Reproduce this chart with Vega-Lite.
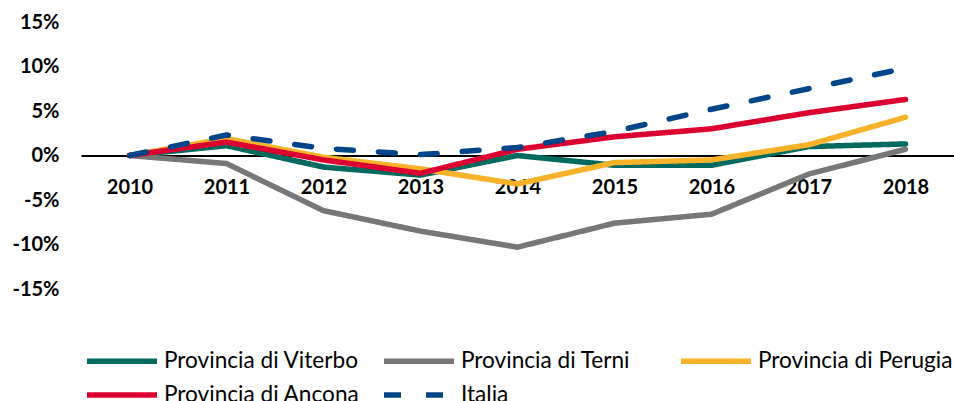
{
  "$schema": "https://vega.github.io/schema/vega-lite/v6.json",
  "autosize": {"type": "none"},
  "width": 873,
  "height": 267,
  "padding": {"left": 81, "top": 22, "right": 0, "bottom": 112},
  "background": "white",
  "config": {"view": {"stroke": null}, "font": "Lato"},
  "data": {"values": [
    {"year": "2010", "serie": "Provincia di Viterbo", "v": 0},
    {"year": "2011", "serie": "Provincia di Viterbo", "v": 1.1},
    {"year": "2012", "serie": "Provincia di Viterbo", "v": -1.3},
    {"year": "2013", "serie": "Provincia di Viterbo", "v": -2.2},
    {"year": "2014", "serie": "Provincia di Viterbo", "v": 0.0},
    {"year": "2015", "serie": "Provincia di Viterbo", "v": -1.1},
    {"year": "2016", "serie": "Provincia di Viterbo", "v": -1.1},
    {"year": "2017", "serie": "Provincia di Viterbo", "v": 1.0},
    {"year": "2018", "serie": "Provincia di Viterbo", "v": 1.3},
    {"year": "2010", "serie": "Provincia di Terni", "v": 0},
    {"year": "2011", "serie": "Provincia di Terni", "v": -0.9},
    {"year": "2012", "serie": "Provincia di Terni", "v": -6.2},
    {"year": "2013", "serie": "Provincia di Terni", "v": -8.5},
    {"year": "2014", "serie": "Provincia di Terni", "v": -10.3},
    {"year": "2015", "serie": "Provincia di Terni", "v": -7.6},
    {"year": "2016", "serie": "Provincia di Terni", "v": -6.6},
    {"year": "2017", "serie": "Provincia di Terni", "v": -2.1},
    {"year": "2018", "serie": "Provincia di Terni", "v": 0.7},
    {"year": "2010", "serie": "Provincia di Perugia", "v": 0},
    {"year": "2011", "serie": "Provincia di Perugia", "v": 1.9},
    {"year": "2012", "serie": "Provincia di Perugia", "v": -0.2},
    {"year": "2013", "serie": "Provincia di Perugia", "v": -1.5},
    {"year": "2014", "serie": "Provincia di Perugia", "v": -3.2},
    {"year": "2015", "serie": "Provincia di Perugia", "v": -0.8},
    {"year": "2016", "serie": "Provincia di Perugia", "v": -0.5},
    {"year": "2017", "serie": "Provincia di Perugia", "v": 1.2},
    {"year": "2018", "serie": "Provincia di Perugia", "v": 4.3},
    {"year": "2010", "serie": "Provincia di Ancona", "v": 0},
    {"year": "2011", "serie": "Provincia di Ancona", "v": 1.5},
    {"year": "2012", "serie": "Provincia di Ancona", "v": -0.5},
    {"year": "2013", "serie": "Provincia di Ancona", "v": -2.0},
    {"year": "2014", "serie": "Provincia di Ancona", "v": 0.7},
    {"year": "2015", "serie": "Provincia di Ancona", "v": 2.1},
    {"year": "2016", "serie": "Provincia di Ancona", "v": 3.0},
    {"year": "2017", "serie": "Provincia di Ancona", "v": 4.8},
    {"year": "2018", "serie": "Provincia di Ancona", "v": 6.3},
    {"year": "2010", "serie": "Italia", "v": 0},
    {"year": "2011", "serie": "Italia", "v": 2.3},
    {"year": "2012", "serie": "Italia", "v": 0.8},
    {"year": "2013", "serie": "Italia", "v": 0.1},
    {"year": "2014", "serie": "Italia", "v": 0.9},
    {"year": "2015", "serie": "Italia", "v": 2.7},
    {"year": "2016", "serie": "Italia", "v": 5.2},
    {"year": "2017", "serie": "Italia", "v": 7.5},
    {"year": "2018", "serie": "Italia", "v": 9.8}
  ]},
  "mark": {"type": "line", "strokeWidth": 5.5, "strokeCap": "round", "strokeJoin": "round"},
  "encoding": {
    "x": {
      "field": "year", "type": "ordinal", "title": null,
      "scale": {"type": "point", "padding": 0.5},
      "axis": {
        "orient": "bottom", "offset": -133.5, "labelAngle": 0,
        "ticks": false, "tickSize": 0, "labelPadding": 22,
        "labelFont": "Lato", "labelFontSize": 20, "labelFontWeight": "bold", "labelColor": "#000000",
        "domainColor": "#000000", "domainWidth": 2, "grid": false
      }
    },
    "y": {
      "field": "v", "type": "quantitative", "title": null,
      "scale": {"domain": [-15, 15], "nice": false, "zero": false},
      "axis": {
        "values": [-15, -10, -5, 0, 5, 10, 15],
        "labelExpr": "datum.value + '%'",
        "domain": false, "ticks": false, "grid": false, "labelPadding": 22,
        "labelFont": "Lato", "labelFontSize": 20, "labelFontWeight": "bold", "labelColor": "#000000"
      }
    },
    "color": {
      "field": "serie", "type": "nominal", "title": null,
      "scale": {
        "domain": ["Provincia di Viterbo", "Provincia di Terni", "Provincia di Perugia", "Provincia di Ancona", "Italia"],
        "range": ["#006A5E", "#777777", "#F7B22A", "#DC0031", "#004587"]
      },
      "legend": {
        "orient": "none", "legendX": 28, "legendY": 326, "direction": "horizontal",
        "columns": 3, "gridAlign": "all", "columnPadding": 13, "rowPadding": 9,
        "symbolType": "M-3.5,0H3.5", "symbolSize": 400, "symbolStrokeWidth": 5.5,
        "labelFont": "Lato", "labelFontSize": 22.6, "labelColor": "#000000", "labelOffset": 29, "labelLimit": 400
      }
    },
    "strokeDash": {
      "field": "serie", "type": "nominal", "title": null,
      "scale": {
        "domain": ["Provincia di Viterbo", "Provincia di Terni", "Provincia di Perugia", "Provincia di Ancona", "Italia"],
        "range": [[1, 0], [1, 0], [1, 0], [1, 0], [17, 25]]
      }
    },
    "order": {"field": "year"}
  }
}
